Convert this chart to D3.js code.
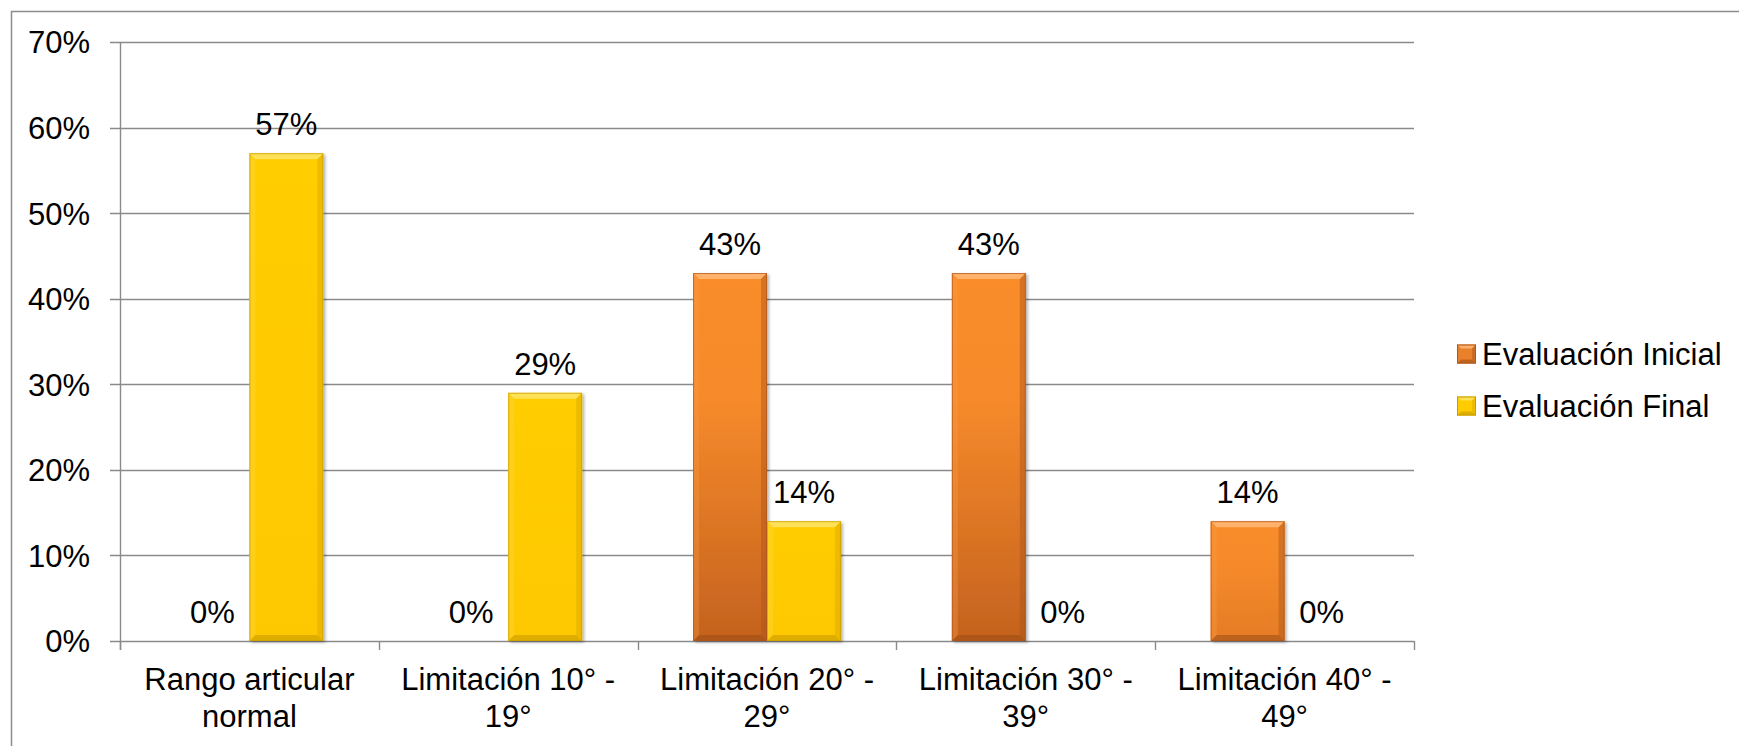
<!DOCTYPE html>
<html>
<head>
<meta charset="utf-8">
<script src="https://cdn.jsdelivr.net/npm/d3@7"></script>
<style>
  html, body { margin: 0; padding: 0; background: #fff; }
  svg { display: block; }
  text { font-family: Arial, "Liberation Sans", sans-serif; fill: #000; }
</style>
</head>
<body>
<svg id="chart" width="1739" height="746"></svg>
<script>
// Categories (two-line axis labels) and series values
const categories = ["Rango articular normal", "Limitación 10° - 19°", "Limitación 20° - 29°", "Limitación 30° - 39°", "Limitación 40° - 49°"];
const categoryLines = [["Rango articular", "normal"], ["Limitación 10° -", "19°"], ["Limitación 20° -", "29°"], ["Limitación 30° -", "39°"], ["Limitación 40° -", "49°"]];
const seriesNames = ["Evaluación Inicial", "Evaluación Final"];
const inicial = [0, 0, 0.43, 0.43, 0.14];
const final = [0.57, 0.29, 0.14, 0, 0];
const yTicks = [0, 0.1, 0.2, 0.3, 0.4, 0.5, 0.6, 0.7];

const W = 1739, H = 746;
const plot = { left: 120, right: 1414, top: 42, bottom: 641 };
const FONT = 31;

const svg = d3.select("#chart");
svg.append("rect").attr("width", W).attr("height", H).attr("fill", "#fff");

const defs = svg.append("defs");

const gYe = defs.append("linearGradient").attr("id", "gradYellow")
  .attr("x1", 0).attr("x2", 0).attr("y1", 0).attr("y2", 1);
gYe.append("stop").attr("offset", 0).attr("stop-color", "#ffcd06");
gYe.append("stop").attr("offset", 1).attr("stop-color", "#fec800");

const shadow = defs.append("filter").attr("id", "shadow")
  .attr("x", "-10%").attr("y", "-10%").attr("width", "130%").attr("height", "130%");
shadow.append("feDropShadow").attr("dx", 2).attr("dy", 1.5).attr("stdDeviation", 1.5)
  .attr("flood-color", "#000").attr("flood-opacity", 0.3);

const colors = {
  "Evaluación Inicial": { swatch: "#e9802a", top: "#ffb877", left: "#f99a45", right: "#a9551b", bottom: "#9a4c16", stroke: "#b0561a" },
  "Evaluación Final": { swatch: "#ffcc00", top: "#ffe466", left: "#ffd84a", right: "#d6a600", bottom: "#c49700", stroke: "#c89c00" }
};

// Scales
const y = d3.scaleLinear().domain([0, 0.7]).range([plot.bottom, plot.top]);
const x0 = d3.scaleBand().domain(categories).range([plot.left, plot.right]).padding(0);
const x1 = d3.scaleBand().domain(seriesNames).range([0, x0.bandwidth()]).paddingInner(0).paddingOuter(0.75);

// Orange bars get darker toward the base; taller bars darken more
const orangeShade = d3.interpolateRgb("#f58829", "#c4621e");
function orangeFill(id, bh) {
  const g = defs.append("linearGradient").attr("id", id)
    .attr("x1", 0).attr("x2", 0).attr("y1", 0).attr("y2", 1);
  g.append("stop").attr("offset", 0).attr("stop-color", "#fa8d2c");
  g.append("stop").attr("offset", 0.35).attr("stop-color", "#f68a2b");
  g.append("stop").attr("offset", 1).attr("stop-color", orangeShade(Math.min(1, bh / 368)));
  return `url(#${id})`;
}

// Chart frame (left and top edges)
svg.append("path")
  .attr("d", `M11.5,${H} L11.5,11.5 L${W},11.5`)
  .attr("fill", "none").attr("stroke", "#8c8c8c").attr("stroke-width", 1.5);

// Gridlines with left tick stubs
const grid = svg.append("g");
grid.selectAll("line").data(yTicks).join("line")
  .attr("x1", plot.left - 10).attr("x2", plot.right)
  .attr("y1", d => Math.round(y(d)) + 0.5).attr("y2", d => Math.round(y(d)) + 0.5)
  .attr("stroke", "#8a8a8a").attr("stroke-width", 1.4);

// Y axis
const yAxis = d3.axisLeft(y).tickValues(yTicks).tickFormat(d3.format(".0%")).tickSize(0).tickPadding(30);
const yg = svg.append("g").attr("transform", `translate(${plot.left},0)`).call(yAxis);
yg.select(".domain").remove();
yg.selectAll("text").attr("font-size", FONT).attr("font-family", "Arial, 'Liberation Sans', sans-serif")
  .attr("fill", "#000").attr("dy", "0.35em");
svg.append("line")
  .attr("x1", plot.left + 0.5).attr("x2", plot.left + 0.5)
  .attr("y1", plot.top).attr("y2", plot.bottom + 9)
  .attr("stroke", "#8a8a8a").attr("stroke-width", 1.4);

// X axis ticks at category boundaries
const bounds = categories.map(c => x0(c)).concat([plot.right]);
svg.append("g").selectAll("line").data(bounds).join("line")
  .attr("x1", d => Math.round(d) + 0.5).attr("x2", d => Math.round(d) + 0.5)
  .attr("y1", plot.bottom).attr("y2", plot.bottom + 9)
  .attr("stroke", "#8a8a8a").attr("stroke-width", 1.4);

// X axis labels
const xl = svg.append("g");
categories.forEach((c, i) => {
  const t = xl.append("text")
    .attr("x", x0(c) + x0.bandwidth() / 2)
    .attr("text-anchor", "middle").attr("font-size", FONT);
  categoryLines[i].forEach((line, k) => {
    t.append("tspan").attr("x", x0(c) + x0.bandwidth() / 2).attr("y", 690 + k * 37).text(line);
  });
});

// Bars with bevelled edges
const rows = [];
categories.forEach((c, i) => {
  rows.push({ cat: c, s: seriesNames[0], v: inicial[i] });
  rows.push({ cat: c, s: seriesNames[1], v: final[i] });
});

const bars = svg.append("g");
const B = 6;
rows.filter(d => d.v > 0).forEach((d, idx) => {
  const bx = x0(d.cat) + x1(d.s);
  const bw = x1.bandwidth();
  const by = y(d.v);
  const bh = y(0) - by;
  const col = colors[d.s];
  const fill = d.s === seriesNames[0] ? orangeFill("gradOrange" + idx, bh) : "url(#gradYellow)";
  const g = bars.append("g");
  g.append("rect").attr("x", bx).attr("y", by).attr("width", bw).attr("height", bh)
    .attr("fill", fill).attr("filter", "url(#shadow)");
  const L = bx, R = bx + bw, T = by, Bt = by + bh;
  const poly = (pts, fill, op) => g.append("polygon")
    .attr("points", pts.map(p => p.join(",")).join(" "))
    .attr("fill", fill).attr("opacity", op);
  poly([[L, T], [R, T], [R - B, T + B], [L + B, T + B]], col.top, 0.85);
  poly([[L, T], [L + B, T + B], [L + B, Bt - B], [L, Bt]], col.left, 0.35);
  poly([[R, T], [R, Bt], [R - B, Bt - B], [R - B, T + B]], col.right, 0.45);
  poly([[L, Bt], [L + B, Bt - B], [R - B, Bt - B], [R, Bt]], col.bottom, 0.55);
  g.append("rect").attr("x", bx + 0.5).attr("y", by + 0.5).attr("width", bw - 1).attr("height", bh - 1)
    .attr("fill", "none").attr("stroke", col.stroke).attr("stroke-width", 1).attr("opacity", 0.7);
});

// Value labels
svg.append("g").selectAll("text").data(rows).join("text")
  .attr("x", d => x0(d.cat) + x1(d.s) + x1.bandwidth() / 2)
  .attr("y", d => y(d.v) - 18)
  .attr("text-anchor", "middle").attr("font-size", FONT)
  .text(d => d3.format(".0%")(d.v));

// Legend
const legend = svg.append("g");
seriesNames.forEach((s, i) => {
  const cy = 354 + i * 52;
  const col = colors[s];
  const lx = 1457, sz = 19, b = 4;
  const lg = legend.append("g");
  lg.append("rect").attr("x", lx).attr("y", cy - sz / 2).attr("width", sz).attr("height", sz).attr("fill", col.swatch);
  const T = cy - sz / 2, Bt = cy + sz / 2, L = lx, R = lx + sz;
  const poly = (pts, fill, op) => lg.append("polygon")
    .attr("points", pts.map(p => p.join(",")).join(" ")).attr("fill", fill).attr("opacity", op);
  poly([[L, T], [R, T], [R - b, T + b], [L + b, T + b]], col.top, 0.85);
  poly([[R, T], [R, Bt], [R - b, Bt - b], [R - b, T + b]], col.right, 0.45);
  poly([[L, Bt], [L + b, Bt - b], [R - b, Bt - b], [R, Bt]], col.bottom, 0.55);
  lg.append("rect").attr("x", lx + 0.5).attr("y", T + 0.5).attr("width", sz - 1).attr("height", sz - 1)
    .attr("fill", "none").attr("stroke", col.stroke).attr("stroke-width", 1);
  lg.append("text").attr("x", 1482).attr("y", cy).attr("dy", "0.35em").attr("font-size", FONT).text(s);
});
</script>
</body>
</html>
